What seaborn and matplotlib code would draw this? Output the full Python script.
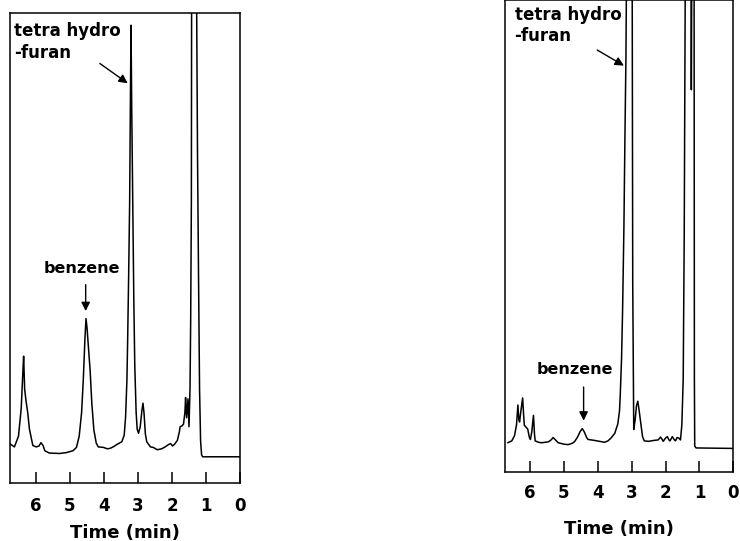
import matplotlib
matplotlib.use("Agg")
import matplotlib.pyplot as plt
import seaborn as sns
import pandas as pd

# chromatogram traces (time in min, detector signal in % of full scale)
left_time = [6.76, 6.62, 6.50, 6.42, 6.37, 6.35, 6.32, 6.28, 6.23, 6.18, 6.08, 5.98, 5.90, 5.84, 5.78,
             5.73, 5.60, 5.30, 5.09, 4.90, 4.80, 4.72, 4.65, 4.60, 4.55, 4.52, 4.49, 4.44, 4.40, 4.35,
             4.29, 4.22, 4.16, 4.01, 3.90, 3.81, 3.70, 3.62, 3.47, 3.40, 3.36, 3.32, 3.30, 3.27, 3.24,
             3.22, 3.20, 3.18, 3.15, 3.12, 3.09, 3.05, 3.02, 2.98, 2.93, 2.88, 2.85, 2.82, 2.78, 2.74,
             2.63, 2.55, 2.43, 2.30, 2.20, 2.10, 2.04, 1.98, 1.92, 1.84, 1.78, 1.76, 1.70, 1.66, 1.62,
             1.60, 1.57, 1.53, 1.50, 1.47, 1.45, 1.43, 1.42, 1.29, 1.25, 1.22, 1.19, 1.16, 1.13, 1.10,
             0.00]
left_signal = [8.4, 7.7, 10.0, 16.0, 24.0, 27.0, 20.0, 17.5, 15.0, 11.5, 8.0, 7.7, 7.9, 8.6, 8.0,
               6.9, 6.4, 6.3, 6.5, 6.9, 7.6, 10.0, 15.0, 22.0, 31.0, 35.0, 33.0, 28.0, 24.0, 17.0,
               11.3, 8.5, 7.7, 7.6, 7.3, 7.4, 7.8, 8.2, 8.8, 10.2, 14.0, 22.0, 30.0, 44.0, 60.0,
               80.0, 97.4, 80.0, 60.0, 40.0, 25.0, 15.0, 11.5, 10.6, 12.0, 15.5, 17.0, 15.0, 10.5, 8.8,
               7.7, 7.6, 7.1, 7.3, 7.7, 8.2, 8.4, 7.9, 8.3, 9.1, 11.0, 12.0, 12.2, 12.6, 15.0,
               18.2, 13.9, 17.9, 12.0, 20.0, 35.0, 60.0, 120.0, 120.0, 70.0, 44.0, 20.0, 9.0, 6.0, 5.6,
               5.6]

right_time = [6.66, 6.54, 6.46, 6.40, 6.36, 6.33, 6.31, 6.27, 6.22, 6.19, 6.17, 6.12, 6.07, 6.02, 5.99,
              5.95, 5.90, 5.87, 5.85, 5.75, 5.66, 5.46, 5.38, 5.32, 5.25, 5.17, 5.00, 4.88, 4.75, 4.68,
              4.60, 4.52, 4.46, 4.40, 4.33, 4.29, 4.10, 3.95, 3.80, 3.70, 3.61, 3.50, 3.41, 3.36, 3.34,
              3.30, 3.27, 3.23, 3.20, 3.17, 3.14, 2.99, 2.97, 2.94, 2.90, 2.86, 2.82, 2.78, 2.73, 2.68,
              2.63, 2.50, 2.34, 2.22, 2.15, 2.10, 2.07, 2.00, 1.95, 1.90, 1.87, 1.80, 1.75, 1.71, 1.66,
              1.61, 1.56, 1.52, 1.48, 1.45, 1.41, 1.25, 1.24, 1.22, 1.16, 1.15, 1.14, 1.10, 0.00]
right_signal = [6.2, 6.6, 7.7, 10.0, 14.2, 11.0, 10.6, 13.0, 15.7, 12.0, 9.9, 9.5, 9.1, 7.3, 6.9,
                8.5, 12.0, 8.0, 6.6, 6.3, 6.2, 6.4, 6.8, 7.3, 6.8, 6.2, 5.9, 5.8, 6.1, 6.5,
                7.4, 8.6, 9.2, 8.5, 7.3, 6.9, 6.7, 6.5, 6.3, 6.6, 7.2, 8.2, 10.2, 13.0, 16.0,
                24.0, 34.0, 52.0, 71.0, 88.0, 120.0, 120.0, 40.0, 9.0, 11.0, 14.0, 15.0, 13.0, 10.2, 7.5,
                6.6, 6.5, 6.7, 6.8, 7.4, 6.9, 6.5, 7.2, 7.5, 6.8, 6.6, 7.5, 6.9, 6.6, 7.3,
                7.2, 6.8, 10.0, 19.7, 50.0, 120.0, 120.0, 81.0, 120.0, 120.0, 20.0, 5.5, 5.1, 5.0]

time_ticks = [6, 5, 4, 3, 2, 1, 0]

sns.set_style("white")
plt.rcParams['font.family'] = ['DejaVu Sans']
plt.rcParams['font.weight'] = 'bold'
plt.rcParams.update({'text.color': 'black', 'axes.labelcolor': 'black',
                     'xtick.color': 'black', 'axes.edgecolor': 'black'})

fig = plt.figure(figsize=(7.4, 5.41), dpi=100)
ax1 = fig.add_axes([0.0135, 0.107, 0.311, 0.869])
ax2 = fig.add_axes([0.682, 0.1275, 0.309, 0.8725])

# ax, time, signal, benzene label, benzene arrow tail/tip, THF label, THF arrow tail/tip, tick pad, label pad
panels = [
    (ax1, left_time, left_signal, (4.65, 45.7), (4.53, 42.8), (4.53, 36.0),
     (6.62, 98.0), (4.18, 89.6), (3.23, 84.7), 10, 6.5),
    (ax2, right_time, right_signal, (4.68, 21.7), (4.42, 18.6), (4.42, 10.3),
     (6.46, 98.8), (4.09, 89.7), (3.16, 85.8), 8.5, 13),
]

for ax, t, s, btxt, btail, btip, ttxt, ttail, ttip, tpad, lpad in panels:
    df = pd.DataFrame({'time': t, 'signal': s})
    sns.lineplot(data=df, x='time', y='signal', ax=ax, color='black', lw=1.1,
                 sort=False, estimator=None)
    ax.set_xlim(6.75, 0)
    ax.set_ylim(0, 100)
    ax.set_yticks([])
    ax.set_ylabel('')
    ax.set_xticks(time_ticks)
    ax.set_xticklabels([str(k) for k in time_ticks], fontsize=12, fontweight='bold')
    ax.tick_params(axis='x', direction='in', length=8, width=1.1, pad=tpad, bottom=True)
    ax.set_xlabel('Time (min)', fontsize=13, fontweight='bold', labelpad=lpad)
    for sp in ax.spines.values():
        sp.set_visible(True)
        sp.set_color('black')
        sp.set_linewidth(1.1)

    ax.text(btxt[0], btxt[1], 'benzene', ha='center', va='center', fontsize=11.5, fontweight='bold')
    ax.annotate('', xy=btip, xytext=btail,
                arrowprops=dict(arrowstyle='-|>', color='black', lw=1.0, mutation_scale=13))
    ax.text(ttxt[0], ttxt[1], 'tetra hydro\n-furan', ha='left', va='top', fontsize=12,
            fontweight='bold', linespacing=1.25)
    ax.annotate('', xy=ttip, xytext=ttail,
                arrowprops=dict(arrowstyle='-|>', color='black', lw=1.0, mutation_scale=13))

plt.savefig('out.png', dpi=100)
